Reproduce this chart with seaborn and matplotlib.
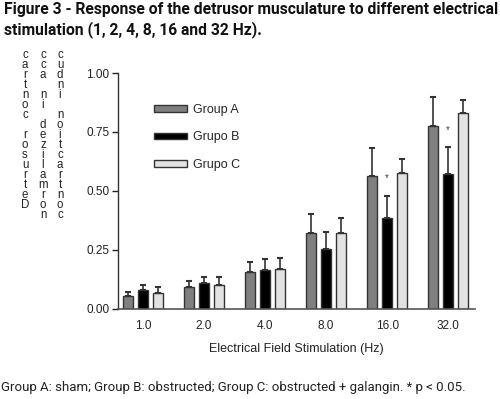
import matplotlib
matplotlib.use("Agg")
import matplotlib.pyplot as plt
import seaborn as sns
import pandas as pd
import numpy as np
from matplotlib.patches import Patch

frequencies = ["1.0", "2.0", "4.0", "8.0", "16.0", "32.0"]
groups = ["Group A", "Grupo B", "Grupo C"]
group_a = [0.053, 0.091, 0.153, 0.319, 0.564, 0.773]
group_b = [0.077, 0.107, 0.165, 0.254, 0.386, 0.573]
group_c = [0.064, 0.098, 0.166, 0.319, 0.575, 0.831]
err_a = [0.017, 0.024, 0.043, 0.081, 0.116, 0.127]
err_b = [0.023, 0.025, 0.046, 0.072, 0.092, 0.111]
err_c = [0.026, 0.034, 0.048, 0.067, 0.058, 0.054]
star_freqs = ["16.0", "32.0"]
star_y = [0.555, 0.758]

colors = ["#7f7f7f", "#000000", "#e2e2e2"]

df = pd.DataFrame({
    "freq": frequencies * 3,
    "group": [g for g in groups for _ in frequencies],
    "value": group_a + group_b + group_c,
})
errs = [err_a, err_b, err_c]

sns.set_style("ticks")
plt.rcParams["font.family"] = ["Liberation Sans", "DejaVu Sans"]

fig = plt.figure(figsize=(5.0, 3.99), dpi=100)
ax = fig.add_axes([118 / 500, 1 - 308.5 / 399, (475 - 118) / 500, (308.5 - 73) / 399])

sns.barplot(data=df, x="freq", y="value", hue="group", order=frequencies,
            hue_order=groups, palette=colors, width=0.74, gap=0.33,
            edgecolor="#333333", linewidth=1.0, errorbar=None, ax=ax,
            legend=False)

for cont, e in zip(ax.containers, errs):
    xs = [p.get_x() + p.get_width() / 2 for p in cont]
    ys = [p.get_height() for p in cont]
    ax.errorbar(xs, ys, yerr=[np.zeros(len(e)), e], fmt="none",
                ecolor="#333333", elinewidth=1.2, capsize=2.5, capthick=1.5,
                zorder=3)

b_cont = ax.containers[1]
for f, sy in zip(star_freqs, star_y):
    i = frequencies.index(f)
    p = b_cont[i]
    ax.text(p.get_x() + p.get_width() / 2, sy, "*", ha="center", va="center",
            fontsize=7, color="#5a3a2a")

ax.set_xlim(-0.41, 5.44)
ax.set_ylim(0, 1.0)
ax.set_yticks([0, 0.25, 0.5, 0.75, 1.0])
ax.set_yticklabels(["0.00", "0.25", "0.50", "0.75", "1.00"])
ax.tick_params(axis="y", length=4, width=1, labelsize=8.5, colors="#222222", pad=2)
ax.tick_params(axis="x", length=0, labelsize=8.5, colors="#222222", pad=8)
for s in ["top", "right"]:
    ax.spines[s].set_visible(False)
ax.spines["left"].set_color("#333333")
ax.spines["bottom"].set_color("#555555")
ax.spines["left"].set_linewidth(1.0)
ax.spines["bottom"].set_linewidth(1.2)
ax.set_ylabel("")
ax.set_xlabel("Electrical Field Stimulation (Hz)", fontsize=9, color="#222222", labelpad=8)

handles = [Patch(facecolor=c, edgecolor="#333333", linewidth=1.0) for c in colors]
ax.legend(handles, groups, loc="upper left", bbox_to_anchor=(0.069, 0.918),
          frameon=False, fontsize=9, handlelength=2.64, handleheight=0.48,
          labelspacing=1.27, handletextpad=0.5)

cols = ["cartnoc rosurteD", "cca ni dezilamron", "cudni noitcartnoc"]
col_x = [25, 43, 60]
for cx, s in zip(col_x, cols):
    fig.text(cx / 500, 1 - 49 / 399, "\n".join(s), ha="center", va="top",
             multialignment="center", linespacing=0.78,
             fontsize=8.3, color="#222222")

title = fig.text(4 / 500, 1 - 2 / 399,
                 "Figure 3 - Response of the detrusor musculature to different electrical\n"
                 "stimulation (1, 2, 4, 8, 16 and 32 Hz).",
                 ha="left", va="top", fontsize=10, fontweight="bold",
                 family=["Roboto", "DejaVu Sans"], linespacing=1.3, color="#111111")
caption = fig.text(1 / 500, 1 - 388 / 399,
                   "Group A: sham; Group B: obstructed; Group C: obstructed + galangin. * p < 0.05.",
                   ha="left", va="center", fontsize=9, family=["Roboto", "DejaVu Sans"],
                   color="#222222")

fig.canvas.draw()
r = fig.canvas.get_renderer()
for t, target in [(title, 493), (caption, 469)]:
    w = t.get_window_extent(renderer=r).width
    t.set_fontsize(t.get_fontsize() * target / w)

fig.savefig("out.png", dpi=100)
